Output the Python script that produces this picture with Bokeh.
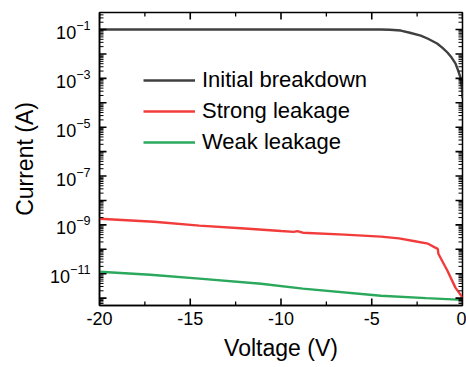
import math
from bokeh.plotting import figure
from bokeh.models import (FixedTicker, LogTickFormatter, Legend,
                          LegendItem, Range1d, CustomJSTickFormatter)
from bokeh.embed import file_html
from bokeh.resources import INLINE

# ---------------- data ----------------
volt_initial = [-20.0, -4.5, -4.0, -3.4, -2.9, -2.3, -1.9, -1.4, -1.1, -0.83, -0.6, -0.39, -0.25, -0.11, -0.03, -0.005]
curr_initial = [0.1, 0.1, 0.098, 0.091, 0.074, 0.056, 0.042, 0.027, 0.0178, 0.0115, 0.0071, 0.0041, 0.0022, 0.00107, 0.0004, 0.00015]

volt_strong = [-20.0, -17.0, -14.5, -12.0, -10.0, -9.3, -9.1, -8.9, -8.8, -6.5, -4.5, -3.5, -2.7, -1.9, -1.5, -1.36, -1.33, -0.83, -0.39, 0.0]
curr_strong = [1.78e-9, 1.35e-9, 9.3e-10, 7.1e-10, 5.6e-10, 5.2e-10, 5.6e-10, 5.1e-10, 4.8e-10, 4.0e-10, 3.3e-10,
               2.8e-10, 2.2e-10, 1.7e-10, 1.17e-10, 1.05e-10, 6.6e-11, 1.32e-11, 2.7e-12, 1.05e-12]

volt_weak = [-20.0, -17.2, -14.5, -11.1, -8.8, -4.5, -2.0, 0.0]
curr_weak = [1.2e-11, 9.1e-12, 6.3e-12, 3.9e-12, 2.45e-12, 1.26e-12, 1.0e-12, 8.5e-13]

series_names = ["Initial breakdown", "Strong leakage", "Weak leakage"]
series_colors = ["#404040", "#f23c3c", "#2aa85c"]

x_major = [-20, -15, -10, -5, 0]
x_minor = [-17.5, -12.5, -7.5, -2.5]
y_major_labeled = [1e-11, 1e-9, 1e-7, 1e-5, 1e-3, 1e-1]
y_decades = [10.0 ** e for e in range(-12, 0)]
y_minor = [k * d for d in [10.0 ** e for e in range(-13, 0)] for k in range(2, 10)]

X_START, X_END = -20, 0
Y_START, Y_END = 5.0e-13, 0.5

FONT = "Liberation Sans"
W, H = 466, 367
BL, BR, BT, BB = 99, 4, 12, 62
FRAME_W, FRAME_H = W - BL - BR, H - BT - BB

p = figure(width=W, height=H, output_backend="svg", toolbar_location=None,
           x_range=Range1d(X_START, X_END), y_range=Range1d(Y_START, Y_END),
           y_axis_type="log", min_border_left=BL, min_border_right=BR,
           min_border_top=BT, min_border_bottom=BB)
p.xgrid.visible = False
p.ygrid.visible = False
p.outline_line_color = "black"
p.outline_line_width = 1.5
p.background_fill_color = "white"
p.border_fill_color = "white"

r_init = p.line(volt_initial, curr_initial, line_color=series_colors[0], line_width=2.4)
r_strong = p.line(volt_strong, curr_strong, line_color=series_colors[1], line_width=2.4)
r_weak = p.line(volt_weak, curr_weak, line_color=series_colors[2], line_width=2.4)

# inward tick marks on all four sides: short segments crossing the frame edges
# (the part outside the frame is clipped away)
y_minor_in = [v for v in y_minor if Y_START < v < Y_END]
MAJ, MIN = 7, 4
x_per_px = (X_END - X_START) / FRAME_W
ydec_per_px = math.log10(Y_END / Y_START) / FRAME_H

def xticks(xs, length, width):
    f_in = 10 ** (length * ydec_per_px)
    f_out = 10 ** (3 * ydec_per_px)
    n = len(xs)
    p.segment(x0=xs, y0=[Y_START / f_out] * n, x1=xs, y1=[Y_START * f_in] * n,
              line_color="black", line_width=width)
    p.segment(x0=xs, y0=[Y_END * f_out] * n, x1=xs, y1=[Y_END / f_in] * n,
              line_color="black", line_width=width)

def yticks(ys, length, width):
    d_in = length * x_per_px
    d_out = 3 * x_per_px
    n = len(ys)
    p.segment(x0=[X_START - d_out] * n, y0=ys, x1=[X_START + d_in] * n, y1=ys,
              line_color="black", line_width=width)
    p.segment(x0=[X_END + d_out] * n, y0=ys, x1=[X_END - d_in] * n, y1=ys,
              line_color="black", line_width=width)

xticks(x_major, MAJ, 1.6)
xticks(x_minor, MIN, 1.3)
yticks(y_decades, MAJ, 1.6)
yticks(y_minor_in, MIN, 1.0)

def style(ax):
    ax.axis_line_color = "black"
    ax.axis_line_width = 1.5
    ax.major_tick_in = 0
    ax.major_tick_out = 0
    ax.minor_tick_in = 0
    ax.minor_tick_out = 0
    ax.major_label_text_font = FONT
    ax.major_label_text_font_size = "18px"
    ax.major_label_text_color = "black"
    ax.axis_label_text_font = FONT
    ax.axis_label_text_font_size = "23px"
    ax.axis_label_text_font_style = "normal"
    ax.axis_label_text_color = "black"

xax = p.xaxis[0]
xax.ticker = FixedTicker(ticks=x_major, minor_ticks=x_minor)
xax.formatter = CustomJSTickFormatter(code="return tick.toFixed(0)")
xax.axis_label = "Voltage (V)"
style(xax)
xax.major_label_standoff = 6
xax.axis_label_standoff = 7

yax = p.yaxis[0]
yax.ticker = FixedTicker(ticks=y_major_labeled, minor_ticks=y_minor)
yax.formatter = LogTickFormatter()
yax.axis_label = "Current (A)"
style(yax)
yax.major_label_standoff = 9
yax.axis_label_standoff = 9

legend = Legend(items=[LegendItem(label=series_names[0], renderers=[r_init]),
                       LegendItem(label=series_names[1], renderers=[r_strong]),
                       LegendItem(label=series_names[2], renderers=[r_weak])],
                location=(44, 150), padding=0, margin=0, spacing=5,
                glyph_width=52, glyph_height=24, label_height=24, label_standoff=7,
                label_text_font=FONT, label_text_font_size="22px", label_text_color="black",
                background_fill_alpha=0, border_line_alpha=0)
p.add_layout(legend)

open("out.html", "w").write(file_html(p, INLINE))
